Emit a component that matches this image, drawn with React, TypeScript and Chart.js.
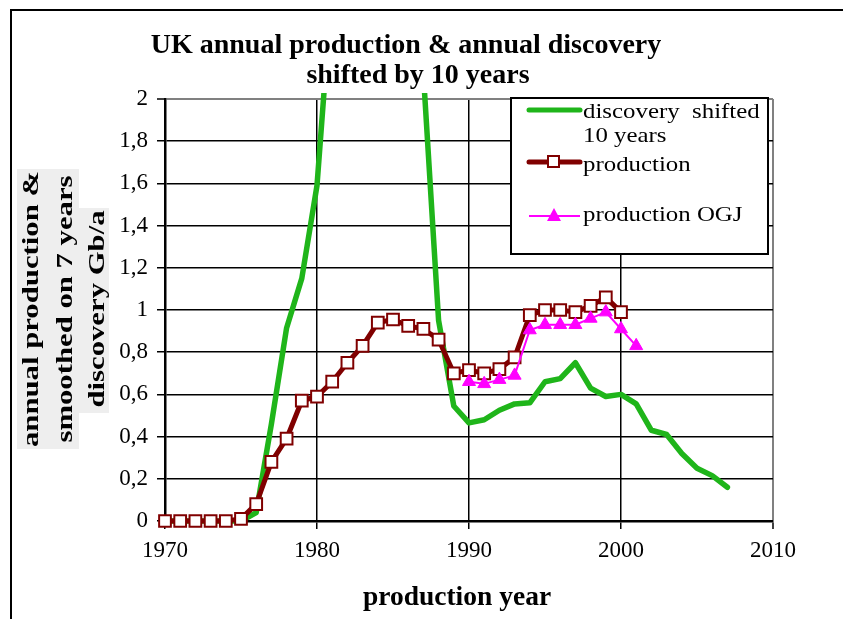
import { useEffect, useRef } from "react";
import { Chart, registerables } from "chart.js";

Chart.register(...registerables);

// ---- data ----
const discoveryYears = [
  1970, 1971, 1972, 1973, 1974, 1975, 1976, 1977, 1978, 1979, 1980, 1981, 1982,
  1983, 1984, 1985, 1986, 1987, 1988, 1989, 1990, 1991, 1992, 1993, 1994, 1995,
  1996, 1997, 1998, 1999, 2000, 2001, 2002, 2003, 2004, 2005, 2006, 2007,
];
const discoveryShifted = [
  0, 0, 0, 0, 0, 0, 0.04, 0.46, 0.915, 1.15, 1.59, 2.55, 3.0, 3.2, 3.3, 3.0,
  2.6, 2.12, 0.95, 0.545, 0.465, 0.48, 0.525, 0.555, 0.56, 0.66, 0.675, 0.75,
  0.63, 0.59, 0.6, 0.555, 0.43, 0.41, 0.32, 0.25, 0.215, 0.16,
];

const productionYears = [
  1970, 1971, 1972, 1973, 1974, 1975, 1976, 1977, 1978, 1979, 1980, 1981, 1982,
  1983, 1984, 1985, 1986, 1987, 1988, 1989, 1990, 1991, 1992, 1993, 1994, 1995,
  1996, 1997, 1998, 1999, 2000,
];
const production = [
  0, 0, 0, 0, 0, 0.01, 0.08, 0.28, 0.39, 0.57, 0.59, 0.66, 0.75, 0.83, 0.94,
  0.955, 0.925, 0.91, 0.86, 0.7, 0.715, 0.7, 0.72, 0.775, 0.976, 1.0, 1.0, 0.99,
  1.02, 1.06, 0.99,
];

const ogjYears = [
  1990, 1991, 1992, 1993, 1994, 1995, 1996, 1997, 1998, 1999, 2000, 2001,
];
const productionOGJ = [
  0.66, 0.65, 0.67, 0.69, 0.905, 0.93, 0.93, 0.93, 0.96, 0.99, 0.91, 0.83,
];

const xTickValues = [1970, 1980, 1990, 2000, 2010];
const yTickLabels = ["0", "0,2", "0,4", "0,6", "0,8", "1", "1,2", "1,4", "1,6", "1,8", "2"];

const titleLines = ["UK annual production & annual discovery", "shifted by 10 years"];
const xTitle = "production year";
const yTitleLines = ["annual production &", "smoothed on 7 years", "discovery Gb/a"];
const legendLabels = ["discovery  shifted", "10 years", "production", "production OGJ"];

const GREEN = "#1FB51A";
const DARKRED = "#800000";
const MAGENTA = "#FF00FF";
const SERIF = '"Liberation Serif", "Times New Roman", serif';

const pairs = (xs: number[], ys: number[]) => xs.map((x, i) => ({ x, y: ys[i] }));

const decorPlugin = {
  id: "decor",
  beforeDraw(chart: any) {
    const ctx = chart.ctx;
    ctx.save();
    ctx.fillStyle = "#ffffff";
    ctx.fillRect(0, 0, chart.width, chart.height);
    // outer frame (top and left)
    ctx.fillStyle = "#000";
    ctx.fillRect(10, 9, chart.width - 10, 2);
    ctx.fillRect(10, 9, 2, chart.height - 9);

    // title
    ctx.fillStyle = "#000";
    ctx.font = `bold 28px ${SERIF}`;
    ctx.textAlign = "center";
    ctx.textBaseline = "alphabetic";
    ctx.fillText(titleLines[0], 406, 53);
    ctx.fillText(titleLines[1], 418, 83);

    // x axis title
    ctx.font = `bold 27.5px ${SERIF}`;
    ctx.fillText(xTitle, 457, 605);

    // y axis title (rotated, grey highlight)
    ctx.fillStyle = "#eeeeee";
    ctx.fillRect(17, 169, 62, 280);
    ctx.fillRect(79, 208, 30, 205);
    ctx.fillStyle = "#000";
    ctx.font = `bold 24px ${SERIF}`;
    const baseX = [38, 72, 104];
    yTitleLines.forEach((t, i) => {
      ctx.save();
      ctx.translate(baseX[i], 309);
      ctx.rotate(-Math.PI / 2);
      ctx.scale(1.28, 1);
      ctx.textAlign = "center";
      ctx.textBaseline = "alphabetic";
      ctx.fillText(t, 0, 0);
      ctx.restore();
    });
    ctx.restore();
  },
  afterDraw(chart: any) {
    const ctx = chart.ctx;
    ctx.save();
    // legend box
    ctx.fillStyle = "#ffffff";
    ctx.fillRect(511, 98, 257, 156);
    ctx.strokeStyle = "#000";
    ctx.lineWidth = 2;
    ctx.strokeRect(511, 98, 257, 156);

    ctx.lineCap = "round";
    // discovery sample
    ctx.strokeStyle = GREEN;
    ctx.lineWidth = 5;
    ctx.beginPath();
    ctx.moveTo(529, 110);
    ctx.lineTo(580, 110);
    ctx.stroke();
    // production sample
    ctx.strokeStyle = DARKRED;
    ctx.beginPath();
    ctx.moveTo(529, 162);
    ctx.lineTo(580, 162);
    ctx.stroke();
    ctx.fillStyle = "#fff";
    ctx.lineWidth = 2;
    ctx.fillRect(548, 156, 11, 11);
    ctx.strokeRect(548, 156, 11, 11);
    // OGJ sample
    ctx.lineCap = "butt";
    ctx.strokeStyle = MAGENTA;
    ctx.lineWidth = 2;
    ctx.beginPath();
    ctx.moveTo(529, 216);
    ctx.lineTo(580, 216);
    ctx.stroke();
    ctx.fillStyle = MAGENTA;
    ctx.beginPath();
    ctx.moveTo(554, 208);
    ctx.lineTo(561, 221);
    ctx.lineTo(547, 221);
    ctx.closePath();
    ctx.fill();

    // legend text
    ctx.fillStyle = "#000";
    ctx.font = `22px ${SERIF}`;
    ctx.textAlign = "left";
    ctx.textBaseline = "alphabetic";
    const ys = [118, 142, 171, 221];
    legendLabels.forEach((t, i) => {
      ctx.save();
      ctx.translate(583, ys[i]);
      ctx.scale(1.13, 1);
      ctx.fillText(t, 0, 0);
      ctx.restore();
    });
    ctx.restore();
  },
};

export default function App() {
  const canvasRef = useRef<HTMLCanvasElement | null>(null);

  useEffect(() => {
    const canvas = canvasRef.current;
    if (!canvas) return;
    const clip = { left: 12, right: 12, bottom: 12, top: 6 };
    const chart = new Chart(canvas, {
      type: "line",
      data: {
        datasets: [
          {
            label: legendLabels[0] + " " + legendLabels[1],
            data: pairs(discoveryYears, discoveryShifted),
            borderColor: GREEN,
            backgroundColor: GREEN,
            borderWidth: 5.5,
            pointRadius: 0,
            borderJoinStyle: "round",
            borderCapStyle: "round",
            tension: 0,
            clip,
            order: 2,
          } as any,
          {
            label: legendLabels[2],
            data: pairs(productionYears, production),
            borderColor: DARKRED,
            backgroundColor: "#ffffff",
            borderWidth: 5,
            pointStyle: "rect",
            pointRadius: 8.3,
            pointBorderWidth: 2,
            pointBackgroundColor: "#ffffff",
            pointBorderColor: DARKRED,
            borderJoinStyle: "round",
            tension: 0,
            clip,
            order: 1,
          } as any,
          {
            label: legendLabels[3],
            data: pairs(ogjYears, productionOGJ),
            borderColor: MAGENTA,
            backgroundColor: MAGENTA,
            borderWidth: 2,
            pointStyle: "triangle",
            pointRadius: 7.5,
            pointBorderWidth: 1,
            pointBackgroundColor: MAGENTA,
            pointBorderColor: MAGENTA,
            tension: 0,
            clip,
            order: 0,
          } as any,
        ],
      },
      options: {
        animation: false,
        responsive: false,
        devicePixelRatio: 1,
        parsing: false as any,
        layout: { padding: { top: 99, right: 70, left: 0, bottom: 0 } },
        plugins: {
          legend: { display: false },
          title: { display: false },
          tooltip: { enabled: false },
        },
        scales: {
          x: {
            type: "linear",
            min: xTickValues[0],
            max: xTickValues[xTickValues.length - 1],
            afterFit: (s: any) => {
              s.height = 98;
            },
            afterBuildTicks: (s: any) => {
              s.ticks = xTickValues.map((v) => ({ value: v }));
            },
            ticks: {
              callback: (v: any) => String(v),
              color: "#000",
              font: { family: SERIF, size: 23 },
              padding: 8,
              maxRotation: 0,
            },
            grid: {
              color: (c: any) => (c.tick && c.tick.value === 2010 ? "#808080" : "#000"),
              lineWidth: (c: any) => (c.tick && c.tick.value === 2010 ? 2 : 1.5),
              tickColor: "#000",
              tickLength: 8,
              tickWidth: 1.5,
            },
            border: { display: true, color: "#000", width: 2.5 },
          } as any,
          y: {
            type: "linear",
            min: 0,
            max: 2,
            afterFit: (s: any) => {
              s.width = 165;
            },
            afterBuildTicks: (s: any) => {
              s.ticks = yTickLabels.map((_, i) => ({ value: i * 0.2 }));
            },
            ticks: {
              callback: (_v: any, i: number) => yTickLabels[i],
              color: "#000",
              font: { family: SERIF, size: 23 },
              padding: 9,
            },
            grid: {
              color: (c: any) => (c.index === yTickLabels.length - 1 ? "#808080" : "#000"),
              lineWidth: (c: any) => (c.index === yTickLabels.length - 1 ? 2 : 1.5),
              tickColor: "#000",
              tickLength: 8,
              tickWidth: 1.5,
            },
            border: { display: true, color: "#000", width: 2.5 },
          } as any,
        },
      },
      plugins: [decorPlugin],
    });
    return () => chart.destroy();
  }, []);

  return (
    <div style={{ position: "absolute", left: 0, top: 0, width: 843, height: 619, background: "#fff" }}>
      <canvas ref={canvasRef} width={843} height={619} style={{ display: "block" }} />
    </div>
  );
}
